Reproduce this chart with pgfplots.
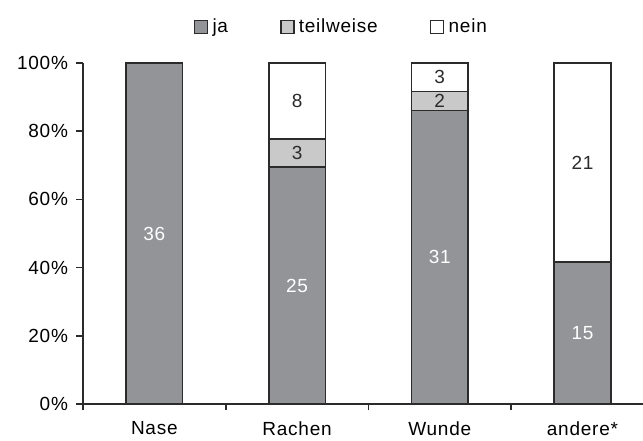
\documentclass[border=0pt]{standalone}
\usepackage{fontspec}
\setmainfont[LetterSpace=4]{Liberation Sans}
\usepackage{pgfplots}
\pgfplotsset{compat=1.18}
\usepackage{pgfplotstable}

\definecolor{jaFill}{HTML}{939497}
\definecolor{twFill}{HTML}{C9C9C9}
\definecolor{edge}{HTML}{2B2B2B}

% counts per site: ja / teilweise / nein
\pgfplotstableread{
idx ja tw nein
0 36 0 0
1 25 3 8
2 31 2 3
3 15 0 21
}\counts

\pgfplotsset{
  seg/.style={
    visualization depends on={\thisrow{#1}\as\cnt},
    nodes near coords={\pgfmathparse{int(round(\cnt))}\ifnum\pgfmathresult>0 \pgfmathresult\fi},
    every node near coord/.append style={anchor=center},
  },
}

\begin{document}
\begin{tikzpicture}[font=\fontsize{19}{22}\selectfont]
\begin{axis}[
  x=142.7pt, y=3.41pt,
  xmin=-0.5, xmax=3.424, ymin=0, ymax=100,
  ybar stacked, bar width=56.5pt,
  axis x line=bottom, axis y line=left,
  axis line style={edge, line width=1.6pt, -},
  xtick={-0.5,0.5,1.5,2.5}, xticklabels={},
  extra x ticks={0,1,2,3},
  extra x tick labels={Nase,Rachen,Wunde,andere*},
  extra x tick style={major tick length=0pt},
  ytick={0,20,...,100},
  yticklabel={\pgfmathprintnumber{\tick}\%},
  /pgf/number format/assume math mode=true,
  tick align=outside, major tick length=6.5pt,
  tick style={edge, line width=1.6pt},
  yticklabel style={xshift=-5pt},
  xticklabel style={yshift=-14pt},
  legend style={at={(axis cs:1.31,110.6)}, anchor=center, draw=none, fill=none,
    legend columns=3,
    /tikz/every even column/.append style={column sep=50pt}},
  legend image code/.code={\draw[#1, line width=1.6pt] (0pt,-6.5pt) rectangle (13pt,6.5pt);
    \path[draw=none, fill=none] (13pt,0pt) -- (16pt,0pt);},
  clip=false,
]
\addplot[fill=jaFill, draw=edge, line width=1.6pt, seg=ja,
  every node near coord/.append style={text=white}]
  table[x=idx, y expr={\thisrow{ja}/(\thisrow{ja}+\thisrow{tw}+\thisrow{nein})*100}] {\counts};
\addplot[fill=twFill, draw=edge, line width=1.6pt, seg=tw,
  every node near coord/.append style={text=edge}]
  table[x=idx, y expr={\thisrow{tw}/(\thisrow{ja}+\thisrow{tw}+\thisrow{nein})*100}] {\counts};
\addplot[fill=white, draw=edge, line width=1.6pt, seg=nein,
  every node near coord/.append style={text=edge}]
  table[x=idx, y expr={\thisrow{nein}/(\thisrow{ja}+\thisrow{tw}+\thisrow{nein})*100}] {\counts};
\legend{ja,teilweise,nein}
\coordinate (O) at (axis cs:-0.5,0);
\end{axis}
\pgfresetboundingbox
\path ([shift={(-83pt,-37pt)}]O) rectangle ([shift={(560pt,404pt)}]O);
\end{tikzpicture}
\end{document}
